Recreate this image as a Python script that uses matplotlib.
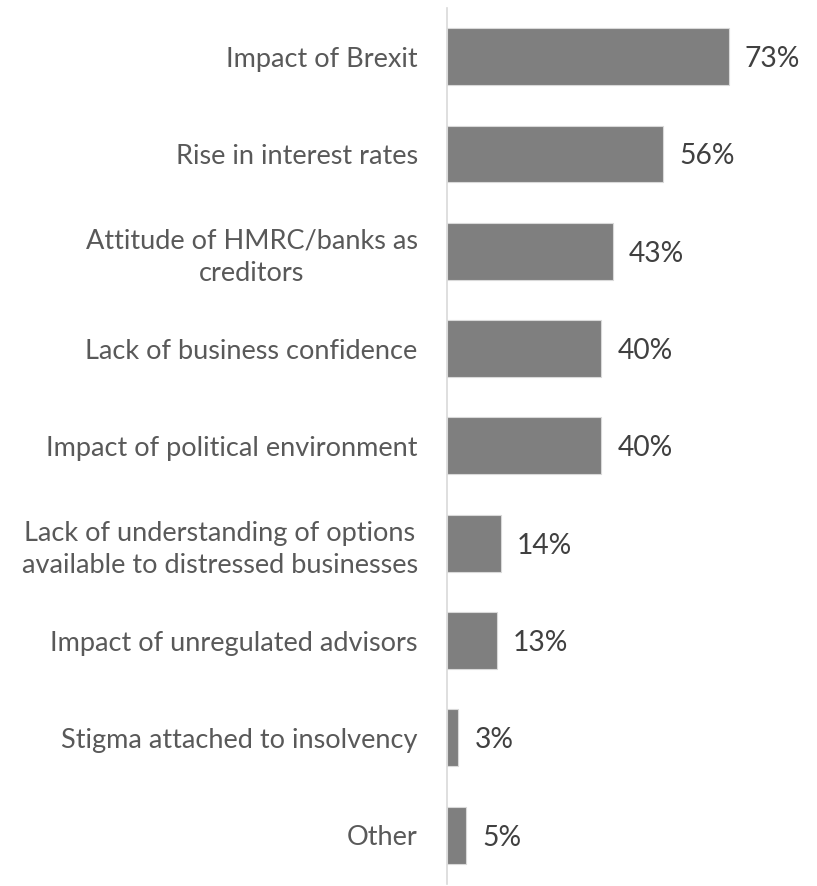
import numpy as np
import matplotlib.pyplot as plt

plt.rcParams['font.family'] = ['Lato', 'DejaVu Sans']

categories = ["Impact of Brexit",
              "Rise in interest rates",
              "Attitude of HMRC/banks as\ncreditors",
              "Lack of business confidence",
              "Impact of political environment",
              "Lack of understanding of options\navailable to distressed businesses",
              "Impact of unregulated advisors",
              "Stigma attached to insolvency",
              "Other"]
values = [73, 56, 43, 40, 40, 14, 13, 3, 5]

fig = plt.figure(figsize=(8.17, 8.86), dpi=100)
ax = fig.add_axes([0.547, 0.0023, 0.453, 0.9887])

y = np.arange(len(categories))
ax.barh(y, values, height=0.585, color='#7f7f7f', edgecolor='#d9d9d9', linewidth=0.8)

for yi, v in zip(y, values):
    ax.text(v + 4.1, yi, f"{v}%", va='center_baseline', ha='left', fontsize=20.3, color='#404040')

ax.set_yticks(y)
ax.set_yticklabels(categories, fontsize=19.5, color='#595959', ha='right',
                   multialignment='center', linespacing=1.35)
ax.tick_params(axis='y', length=0, pad=21)
ax.set_ylim(8.5, -0.5)
ax.set_xlim(0, 95.8)
ax.set_xticks([])

for side in ['top', 'right', 'bottom']:
    ax.spines[side].set_visible(False)
ax.spines['left'].set_color('#d9d9d9')
ax.spines['left'].set_linewidth(1.2)

fig.savefig("out.png", dpi=100)
